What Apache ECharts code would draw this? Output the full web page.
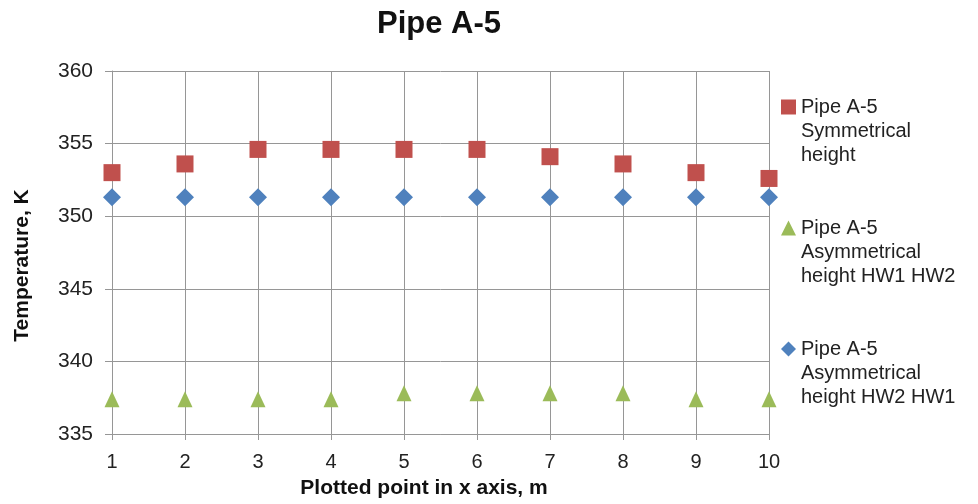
<!DOCTYPE html>
<html><head><meta charset="utf-8">
<script src="https://cdn.jsdelivr.net/npm/echarts@6/dist/echarts.min.js"></script>
<style>html,body{margin:0;padding:0;background:#fff}#c{width:978px;height:504px}</style>
</head><body><div id="c"></div>
<script>
var categories = ['1','2','3','4','5','6','7','8','9','10'];
var symmetrical = [353.0, 353.6, 354.6, 354.6, 354.6, 354.6, 354.1, 353.6, 353.0, 352.6];
var asymHW1HW2 = [337.4, 337.4, 337.4, 337.4, 337.8, 337.8, 337.8, 337.8, 337.4, 337.4];
var asymHW2HW1 = [351.3, 351.3, 351.3, 351.3, 351.3, 351.3, 351.3, 351.3, 351.3, 351.3];
var names = ['Pipe A-5\nSymmetrical\nheight', 'Pipe A-5\nAsymmetrical\nheight HW1 HW2', 'Pipe A-5\nAsymmetrical\nheight HW2 HW1'];
var yTicks = {min: 335, max: 360, step: 5};

var font = '"Liberation Sans", Arial, sans-serif';
var gridColor = '#969696';
var chart = echarts.init(document.getElementById('c'));
chart.setOption({
  animation: false,
  textStyle: {fontFamily: font},
  title: {text: 'Pipe A-5', left: 434, top: 4, textAlign: 'center',
    textStyle: {fontSize: 31, fontWeight: 'bold', color: '#111', fontFamily: font}},
  grid: {left: 112, right: 209, top: 71, bottom: 69},
  legend: {
    orient: 'vertical', left: 781, top: 47, itemGap: 1, padding: 0,
    itemWidth: 15, itemHeight: 15,
    data: [{name: names[0], icon: 'rect'}, {name: names[1], icon: 'triangle'}, {name: names[2], icon: 'diamond'}],
    formatter: function (n) { return '\n\n' + n; },
    textStyle: {fontSize: 20, lineHeight: 24, color: '#222', fontFamily: font}
  },
  xAxis: {
    type: 'category', data: categories, boundaryGap: false,
    name: 'Plotted point in x axis, m', nameLocation: 'middle', nameGap: 44,
    nameTextStyle: {fontSize: 21, fontWeight: 'bold', color: '#111', verticalAlign: 'top', padding: [0, 33, 0, 0]},
    axisLine: {lineStyle: {color: gridColor, width: 1}},
    axisTick: {show: true, alignWithLabel: true, length: 6, lineStyle: {color: gridColor}},
    axisLabel: {fontSize: 20, color: '#222', margin: 18},
    splitLine: {show: true, lineStyle: {color: gridColor, width: 1}}
  },
  yAxis: {
    type: 'value', min: yTicks.min, max: yTicks.max, interval: yTicks.step,
    name: 'Temperature, K', nameLocation: 'middle', nameGap: 79,
    nameTextStyle: {fontSize: 21, fontWeight: 'bold', color: '#111', padding: [0, 26, 0, 0]},
    axisLine: {show: true, lineStyle: {color: gridColor, width: 1}},
    axisTick: {show: true, length: 7, lineStyle: {color: gridColor}},
    axisLabel: {fontSize: 21, color: '#222', margin: 19},
    splitLine: {show: true, lineStyle: {color: gridColor, width: 1}}
  },
  series: [
    {name: names[0], type: 'scatter', data: symmetrical, symbol: 'rect', symbolSize: 17,
      itemStyle: {color: '#C0504D', opacity: 1}},
    {name: names[1], type: 'scatter', data: asymHW1HW2, symbol: 'triangle', symbolSize: [15, 16],
      itemStyle: {color: '#9BBB59', opacity: 1}},
    {name: names[2], type: 'scatter', data: asymHW2HW1, symbol: 'diamond', symbolSize: [18, 18],
      itemStyle: {color: '#4F81BD', opacity: 1}}
  ]
});
</script></body></html>
